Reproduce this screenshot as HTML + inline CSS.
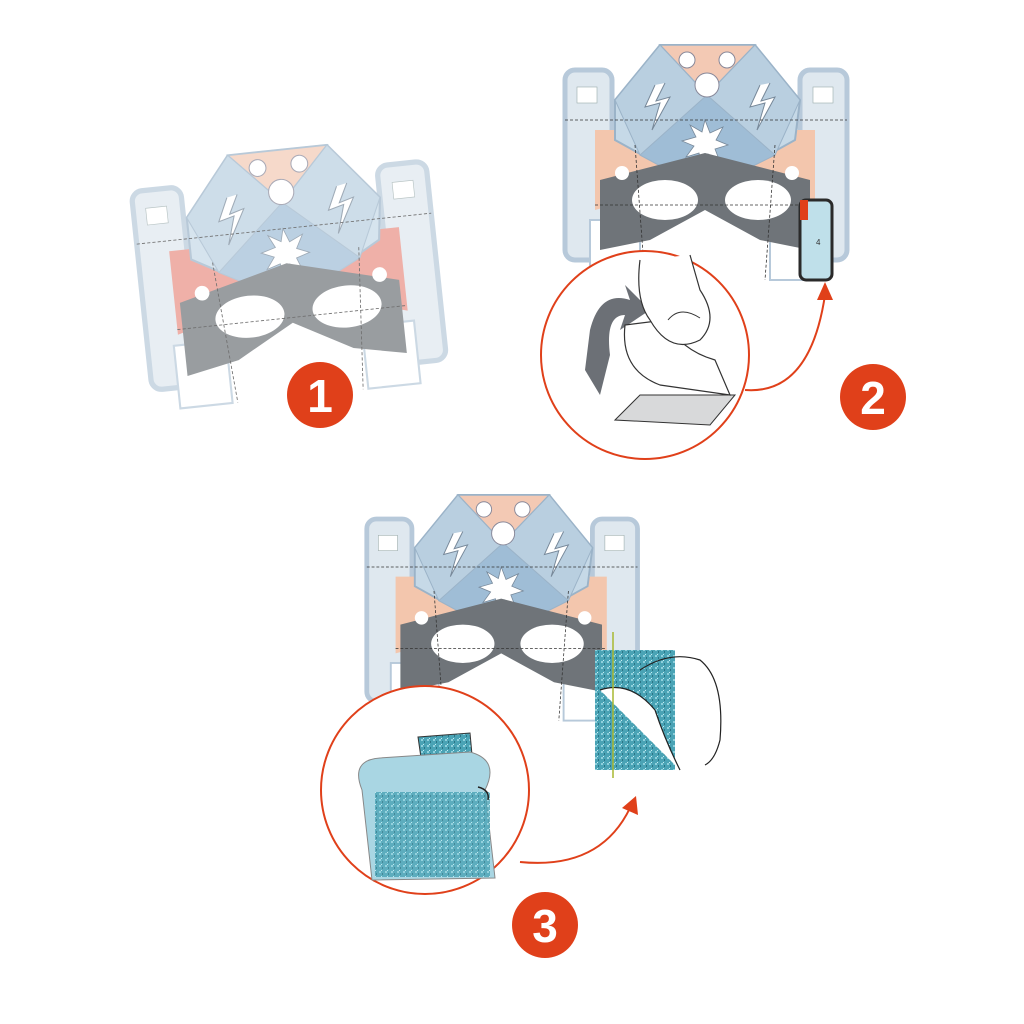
<!DOCTYPE html>
<html><head><meta charset="utf-8"><style>
html,body{margin:0;padding:0;background:#fff;width:1024px;height:1024px;overflow:hidden}
svg{display:block}
text{font-family:"Liberation Sans",sans-serif}
</style></head><body>
<svg width="1024" height="1024" viewBox="0 0 1024 1024" xmlns="http://www.w3.org/2000/svg">
<defs>
<pattern id="gl" width="6" height="6" patternUnits="userSpaceOnUse">
<rect width="6" height="6" fill="#4aa3b5"/><rect x="1" y="1" width="2" height="2" fill="#8fd0dc"/><rect x="4" y="3" width="1" height="2" fill="#2b7485"/><rect x="3" y="0" width="1" height="1" fill="#c6ecf2"/>
</pattern>
<g id="mask">
 <rect x="5" y="25" width="47" height="190" rx="10" fill="#dfe8ef" stroke="#b7c9da" stroke-width="5"/>
 <rect x="240" y="25" width="47" height="190" rx="10" fill="#dfe8ef" stroke="#b7c9da" stroke-width="5"/>
 <rect x="17" y="42" width="20" height="16" fill="#fff" stroke="#9aa" stroke-width="0.6"/>
 <rect x="253" y="42" width="20" height="16" fill="#fff" stroke="#9aa" stroke-width="0.6"/>
 <rect x="30" y="175" width="50" height="60" fill="#fff" stroke="#b7c9da" stroke-width="2"/>
 <rect x="210" y="175" width="50" height="60" fill="#fff" stroke="#b7c9da" stroke-width="2"/>
 <polygon points="35,85 255,85 255,165 145,135 35,165" fill="currentColor"/>
 <polygon points="100,0 195,0 240,55 235,95 145,145 55,95 55,55" fill="#c6d9e7" stroke="#9bb3c8" stroke-width="2"/>
 <polygon points="100,0 195,0 147,50" fill="#f3c9b4" stroke="#9bb3c8" stroke-width="1.5"/>
 <polygon points="147,50 100,0 55,55 80,110 145,145" fill="#b9cfe0" stroke="#9bb3c8" stroke-width="1"/>
 <polygon points="147,50 195,0 240,55 215,110 145,145" fill="#b9cfe0" stroke="#9bb3c8" stroke-width="1"/>
 <polygon points="147,50 80,110 145,145 215,110" fill="#9fbdd6" stroke="#9bb3c8" stroke-width="1"/>
 <circle cx="127" cy="15" r="8" fill="#fff" stroke="#889"/><circle cx="167" cy="15" r="8" fill="#fff" stroke="#889"/>
 <circle cx="147" cy="40" r="12" fill="#fff" stroke="#889"/>
 <polygon points="145,75 150,88 163,82 156,95 168,100 155,104 160,117 148,109 142,122 139,108 126,112 134,101 122,96 136,92 130,80 142,87" fill="#fff" stroke="#789" stroke-width="0.8"/>
 <polyline points="95,40 85,62 100,58 92,85 110,52 96,56 105,38" fill="#fff" stroke="#789" stroke-width="1"/>
 <polyline points="200,40 190,62 205,58 197,85 215,52 201,56 210,38" fill="#fff" stroke="#789" stroke-width="1"/>
 <polygon points="40,135 145,108 250,135 250,205 200,195 145,165 90,195 40,205" fill="#6f7479"/>
 <ellipse cx="105" cy="155" rx="33" ry="20" fill="#fff"/>
 <ellipse cx="198" cy="155" rx="33" ry="20" fill="#fff"/>
 <circle cx="62" cy="128" r="7" fill="#fff"/><circle cx="232" cy="128" r="7" fill="#fff"/>
 <g stroke="#333" stroke-width="0.8" stroke-dasharray="3,2" fill="none">
  <line x1="5" y1="75" x2="287" y2="75"/><line x1="35" y1="160" x2="255" y2="160"/>
  <line x1="75" y1="100" x2="85" y2="235"/><line x1="215" y1="100" x2="205" y2="235"/>
 </g>
</g>
</defs>

<g transform="translate(135,150) rotate(-6 150 120) scale(1.05)" color="#e98f84" opacity="0.7">
 <use href="#mask"/>
</g>
<circle cx="320" cy="395" r="33" fill="#e0401a"/>
<text x="320" y="412" font-size="46" font-weight="bold" fill="#fff" text-anchor="middle">1</text>

<g transform="translate(560,45)" color="#f3c6ad"><use href="#mask"/></g>
<rect x="800" y="200" width="32" height="80" rx="6" fill="#bfe0ea" stroke="#2a2a2a" stroke-width="3"/>
<rect x="800" y="200" width="8" height="20" fill="#e0401a"/>
<text x="816" y="245" font-size="8" fill="#333">4</text>
<circle cx="645" cy="355" r="104" fill="#fff" stroke="#e0401a" stroke-width="2"/>
<path d="M590,330 Q600,290 630,300 L625,285 L650,310 L620,330 L625,315 Q605,315 610,355 L600,395 L585,370 Z" fill="#6c7076"/>
<polygon points="615,420 640,395 735,395 710,425" fill="#d8d9da" stroke="#333" stroke-width="1"/>
<path d="M625,325 Q620,370 660,385 L730,395 L715,360 Q680,350 665,320 Z" fill="#fff" stroke="#333" stroke-width="1.2"/>
<path d="M640,260 Q635,300 650,320 Q670,355 700,340 Q720,320 700,290 L690,255" fill="#fff" stroke="#333" stroke-width="1.2"/>
<path d="M668,320 Q680,305 700,318" fill="none" stroke="#333" stroke-width="1"/>
<path d="M745,390 Q810,395 825,295" fill="none" stroke="#e0401a" stroke-width="2"/>
<polygon points="825,282 817,300 833,300" fill="#e0401a"/>
<circle cx="873" cy="397" r="33" fill="#e0401a"/>
<text x="873" y="414" font-size="46" font-weight="bold" fill="#fff" text-anchor="middle">2</text>

<g transform="translate(362,495) scale(0.96)" color="#f3c6ad"><use href="#mask"/></g>
<rect x="595" y="650" width="80" height="120" fill="url(#gl)"/>
<path d="M640,670 Q670,650 700,660 Q725,680 720,740 Q715,760 705,765" fill="none" stroke="#222" stroke-width="1.2"/>
<path d="M600,690 Q630,680 655,710 Q665,740 680,770" fill="#fff" stroke="#222" stroke-width="1.2"/>
<line x1="613" y1="632" x2="613" y2="778" stroke="#a8b830" stroke-width="1.5"/>
<circle cx="425" cy="790" r="104" fill="#fff" stroke="#e0401a" stroke-width="2"/>
<polygon points="418,737 470,733 478,820 430,820" fill="url(#gl)" stroke="#333" stroke-width="1"/>
<path d="M362,790 Q350,760 380,758 L470,752 Q500,760 485,790 L495,878 L372,880 Z" fill="#a9d6e3" stroke="#888" stroke-width="1"/>
<rect x="375" y="792" width="115" height="85" fill="url(#gl)" opacity="0.8"/>
<path d="M478,787 Q490,790 488,800" fill="none" stroke="#222" stroke-width="1.5"/>
<path d="M520,862 Q600,870 630,808" fill="none" stroke="#e0401a" stroke-width="2"/>
<polygon points="636,796 622,808 638,815" fill="#e0401a"/>
<circle cx="545" cy="925" r="33" fill="#e0401a"/>
<text x="545" y="942" font-size="46" font-weight="bold" fill="#fff" text-anchor="middle">3</text>
</svg>
</body></html>
